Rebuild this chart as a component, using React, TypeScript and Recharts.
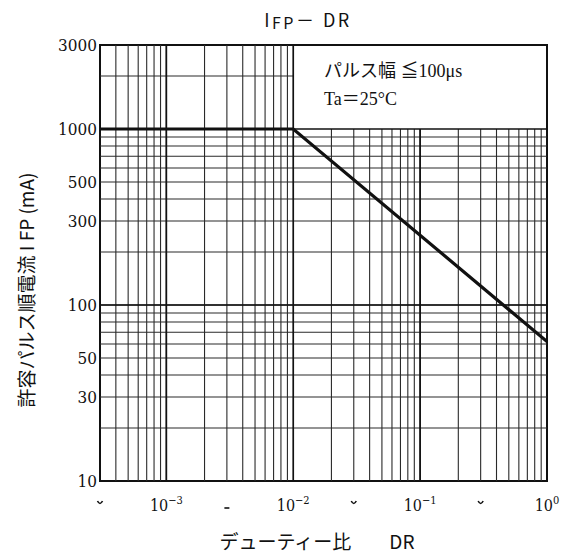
import React from 'react';
import { LineChart, Line, XAxis, YAxis, ReferenceLine, ReferenceArea } from 'recharts';

// allowable pulse forward current vs duty ratio
const ifpCurve = [
  { dr: 0.0003, ifp: 1000 },
  { dr: 0.01, ifp: 1000 },
  { dr: 1, ifp: 62 },
];

// vertical grid lines that run the full height (left of the note box)
const xGridFull = [
  0.0004, 0.0005, 0.0006, 0.0007, 0.0008, 0.0009,
  0.001, 0.002, 0.003, 0.004, 0.005, 0.006, 0.007, 0.008, 0.009,
];
// vertical grid lines that stop at 1000 mA (under the note box)
const xGridLower = [
  0.02, 0.03, 0.04, 0.05, 0.06, 0.07, 0.08, 0.09,
  0.1, 0.2, 0.3, 0.4, 0.5, 0.6, 0.7, 0.8, 0.9,
];
const xGridBold = [0.001, 0.01];
const xGridBoldLower = [0.1];

// horizontal grid lines across the full width
const yGridFull = [
  20, 30, 40, 50, 60, 70, 80, 90,
  100, 200, 300, 400, 500, 600, 700, 800, 900,
];
// horizontal grid lines left of the note box only
const yGridLeft = [2000];
const yGridBold = [100, 1000];

const xDecades = [0.001, 0.01, 0.1, 1];
const xDecadeExp = ['−3', '−2', '−1', '0'];
const xStubs = [0.0003, 0.003, 0.03, 0.3];
const yTickLabels = [10, 30, 50, 100, 300, 500, 1000, 3000];

const X_MIN = 0.0003;
const X_MAX = 1;
const Y_MIN = 10;
const Y_MAX = 3000;
const X_BOX = 0.01;
const Y_BOX = 1000;

const GRID = '#2a2a2a';
const INK = '#111';
const SERIF = '"DejaVu Serif Condensed", "DejaVu Serif", "Liberation Serif", serif';
const NOTE = '"Liberation Serif", "Noto Sans CJK JP", serif';
const SANS = '"Noto Sans CJK JP", "Noto Sans", sans-serif';

function XTick(props: any) {
  const { x, y, payload } = props;
  const v = payload.value;
  const i = xDecades.findIndex((d) => Math.abs(d - v) / d < 1e-6);
  if (i >= 0) {
    return (
      <text x={x} y={y + 30} textAnchor="middle" fontFamily={SERIF} fontSize={16} fill={INK}>
        10
        <tspan dy={-7} fontSize={11}>{xDecadeExp[i]}</tspan>
      </text>
    );
  }
  // cut-off remnants of the 3×10^n labels
  const flat = Math.abs(v - 0.003) < 1e-9;
  return flat ? (
    <path d={`M ${x - 2.5} ${y + 27} L ${x + 2.5} ${y + 27}`} stroke={INK} strokeWidth={1.6} fill="none" />
  ) : (
    <path d={`M ${x - 2.5} ${y + 20} Q ${x} ${y + 25} ${x + 2.5} ${y + 20}`} stroke={INK} strokeWidth={1.6} fill="none" />
  );
}

function YTick(props: any) {
  const { x, y, payload } = props;
  return (
    <text x={x - 3} y={y + 6} textAnchor="end" fontFamily={SERIF} fontSize={17} fill={INK}>
      {payload.value}
    </text>
  );
}

export default function App() {
  return (
    <div style={{ position: 'absolute', left: 0, top: 0, width: 562, height: 555, background: '#fff' }}>
      <LineChart width={562} height={555} data={ifpCurve} margin={{ top: 45, right: 15, bottom: 44, left: 40 }}>
        <XAxis
          dataKey="dr"
          type="number"
          scale="log"
          domain={[X_MIN, X_MAX]}
          ticks={[...xStubs, ...xDecades]}
          interval={0}
          allowDataOverflow
          height={30}
          tickSize={0}
          tickMargin={0}
          tickLine={false}
          axisLine={false}
          tick={<XTick />}
        />
        <YAxis
          type="number"
          scale="log"
          domain={[Y_MIN, Y_MAX]}
          ticks={yTickLabels}
          interval={0}
          allowDataOverflow
          width={60}
          tickSize={0}
          tickMargin={0}
          tickLine={false}
          axisLine={false}
          tick={<YTick />}
        />
        {xGridFull.map((v) => (
          <ReferenceLine key={`vf${v}`} segment={[{ x: v, y: Y_MIN }, { x: v, y: Y_MAX }]} stroke={GRID} strokeWidth={1.1} />
        ))}
        {xGridLower.map((v) => (
          <ReferenceLine key={`vl${v}`} segment={[{ x: v, y: Y_MIN }, { x: v, y: Y_BOX }]} stroke={GRID} strokeWidth={1.1} />
        ))}
        {yGridFull.map((v) => (
          <ReferenceLine key={`hf${v}`} segment={[{ x: X_MIN, y: v }, { x: X_MAX, y: v }]} stroke={GRID} strokeWidth={1.1} />
        ))}
        {yGridLeft.map((v) => (
          <ReferenceLine key={`hl${v}`} segment={[{ x: X_MIN, y: v }, { x: X_BOX, y: v }]} stroke={GRID} strokeWidth={1.1} />
        ))}
        {xGridBold.map((v) => (
          <ReferenceLine key={`vb${v}`} segment={[{ x: v, y: Y_MIN }, { x: v, y: Y_MAX }]} stroke={INK} strokeWidth={1.7} />
        ))}
        {xGridBoldLower.map((v) => (
          <ReferenceLine key={`vbl${v}`} segment={[{ x: v, y: Y_MIN }, { x: v, y: Y_BOX }]} stroke={INK} strokeWidth={1.7} />
        ))}
        {yGridBold.map((v) => (
          <ReferenceLine key={`hb${v}`} segment={[{ x: X_MIN, y: v }, { x: X_MAX, y: v }]} stroke={INK} strokeWidth={1.5} />
        ))}
        <ReferenceArea x1={X_MIN} x2={X_MAX} y1={Y_MIN} y2={Y_MAX} fill="none" fillOpacity={0} stroke={INK} strokeWidth={2} />
        <Line dataKey="ifp" type="linear" stroke={INK} strokeWidth={3.2} dot={false} isAnimationActive={false} />
      </LineChart>
      <svg width={562} height={555} style={{ position: 'absolute', left: 0, top: 0, pointerEvents: 'none' }}>
        <text x={308} y={27} textAnchor="middle" fontFamily={SANS} fontSize={18} letterSpacing={2.5} fill={INK}>
          I<tspan fontSize={16} dy={2}>FP</tspan><tspan dy={-2}>－ DR</tspan>
        </text>
        <text x={0} y={0} transform="translate(34 290) rotate(-90)" textAnchor="middle" fontFamily={SANS} fontSize={19} fill={INK}>
          許容パルス順電流 I FP (mA)
        </text>
        <text x={317} y={549} textAnchor="middle" fontFamily={SANS} fontSize={19} fill={INK}>
          デューティー比　　DR
        </text>
        <text x={324} y={77} fontFamily={NOTE} fontSize={18} fill={INK}>
          パルス幅 ≦100μs
        </text>
        <text x={324} y={105} fontFamily={NOTE} fontSize={18} fill={INK}>
          Ta＝25°C
        </text>
      </svg>
    </div>
  );
}
